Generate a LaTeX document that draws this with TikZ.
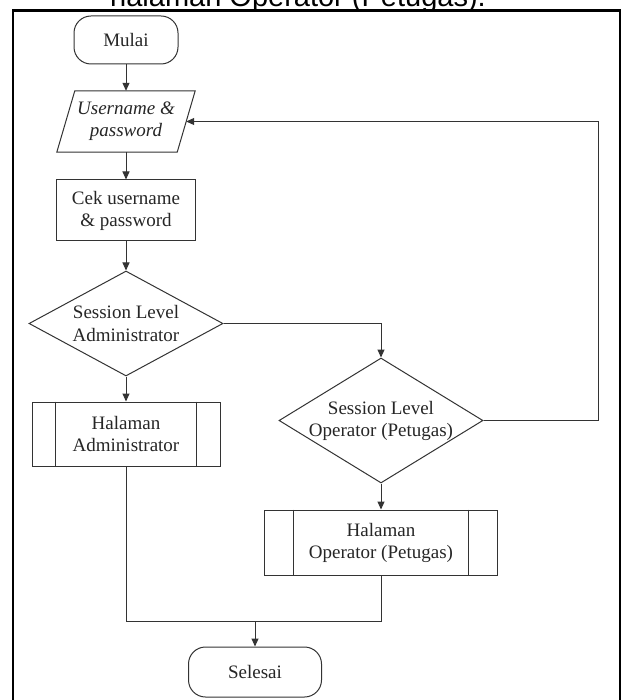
\documentclass[tikz,border=0pt]{standalone}
\usepackage{fontspec}
\setmainfont{Liberation Serif}
\newfontfamily\titlefont{Liberation Sans}
\usetikzlibrary{shapes.geometric,arrows.meta}

\begin{document}
\begin{tikzpicture}[x=1pt,y=-1pt,
  every node/.style={font=\fontsize{19}{22}\selectfont, align=center, text=black!85},
  flow/.style={draw=black!80, line width=1pt},
  arr/.style={flow, -{Triangle[length=8pt,width=7pt]}},
  box/.style={flow, rectangle, inner sep=0pt},
  term/.style={box, rounded corners=17pt},
  dec/.style={flow, diamond, inner sep=0pt},
]
\useasboundingbox (0,0) rectangle (626,700);

% caption line above the frame
\node[font=\titlefont\fontsize{29}{34}\selectfont, anchor=base west,
      inner sep=0pt, text=black] (title) at (110,7) {halaman Operator (Petugas).};

% outer frame
\path[draw=black, line width=2.2pt, fill=white] (13,10.5) rectangle (620,720);

% terminals
\node[term, minimum width=104pt, minimum height=48pt] (mulai) at (126,40) {Mulai};
\node[term, minimum width=133pt, minimum height=50pt] (selesai) at (255,672) {Selesai};

% input (parallelogram drawn around a bare node)
\node[inner sep=0pt, minimum width=120pt, minimum height=61pt] (inp) at (126,121.5)
  {\itshape Username \&\\\itshape password};
\draw[flow] ([xshift=9pt]inp.north west) -- ([xshift=9pt]inp.north east)
  -- ([xshift=-9pt]inp.south east) -- ([xshift=-9pt]inp.south west) -- cycle;

% process
\node[box, minimum width=139pt, minimum height=61pt] (cek) at (126,210.5)
  {Cek username\\\& password};

% decisions
\node[dec, minimum width=194pt, minimum height=105pt] (d1) at (126,323.5) {};
\node at (d1) {Session Level\\Administrator};
\node[dec, minimum width=204pt, minimum height=125pt] (d2) at (381,420.5) {};
\node at (d2) {Session Level\\Operator (Petugas)};

% predefined processes
\node[box, minimum width=188pt, minimum height=64pt] (ha) at (126,434)
  {Halaman\\Administrator};
\draw[flow] ([xshift=24pt]ha.north west) -- ([xshift=24pt]ha.south west);
\draw[flow] ([xshift=-24pt]ha.north east) -- ([xshift=-24pt]ha.south east);

\node[box, minimum width=233pt, minimum height=65pt] (ho) at (381,542.5)
  {Halaman\\Operator (Petugas)};
\draw[flow] ([xshift=29pt]ho.north west) -- ([xshift=29pt]ho.south west);
\draw[flow] ([xshift=-30pt]ho.north east) -- ([xshift=-30pt]ho.south east);

% routing points
\coordinate (fb) at (598,420.5);
\coordinate (join) at (255,621);

% connectors
\draw[arr] (mulai) -- (inp);
\draw[arr] (inp.south) -- (cek.north);
\draw[arr] (cek) -- (d1);
\draw[arr] (d1) -- (ha);
\draw[arr] (d1.east) -| (d2.north);
\draw[arr] (d2) -- (ho);
\draw[arr] (d2.east) -- (fb) |- (inp.east);
\draw[flow] (ha.south) |- (join);
\draw[flow] (ho.south) |- (join);
\draw[arr] (join) -- (selesai);
\end{tikzpicture}
\end{document}
